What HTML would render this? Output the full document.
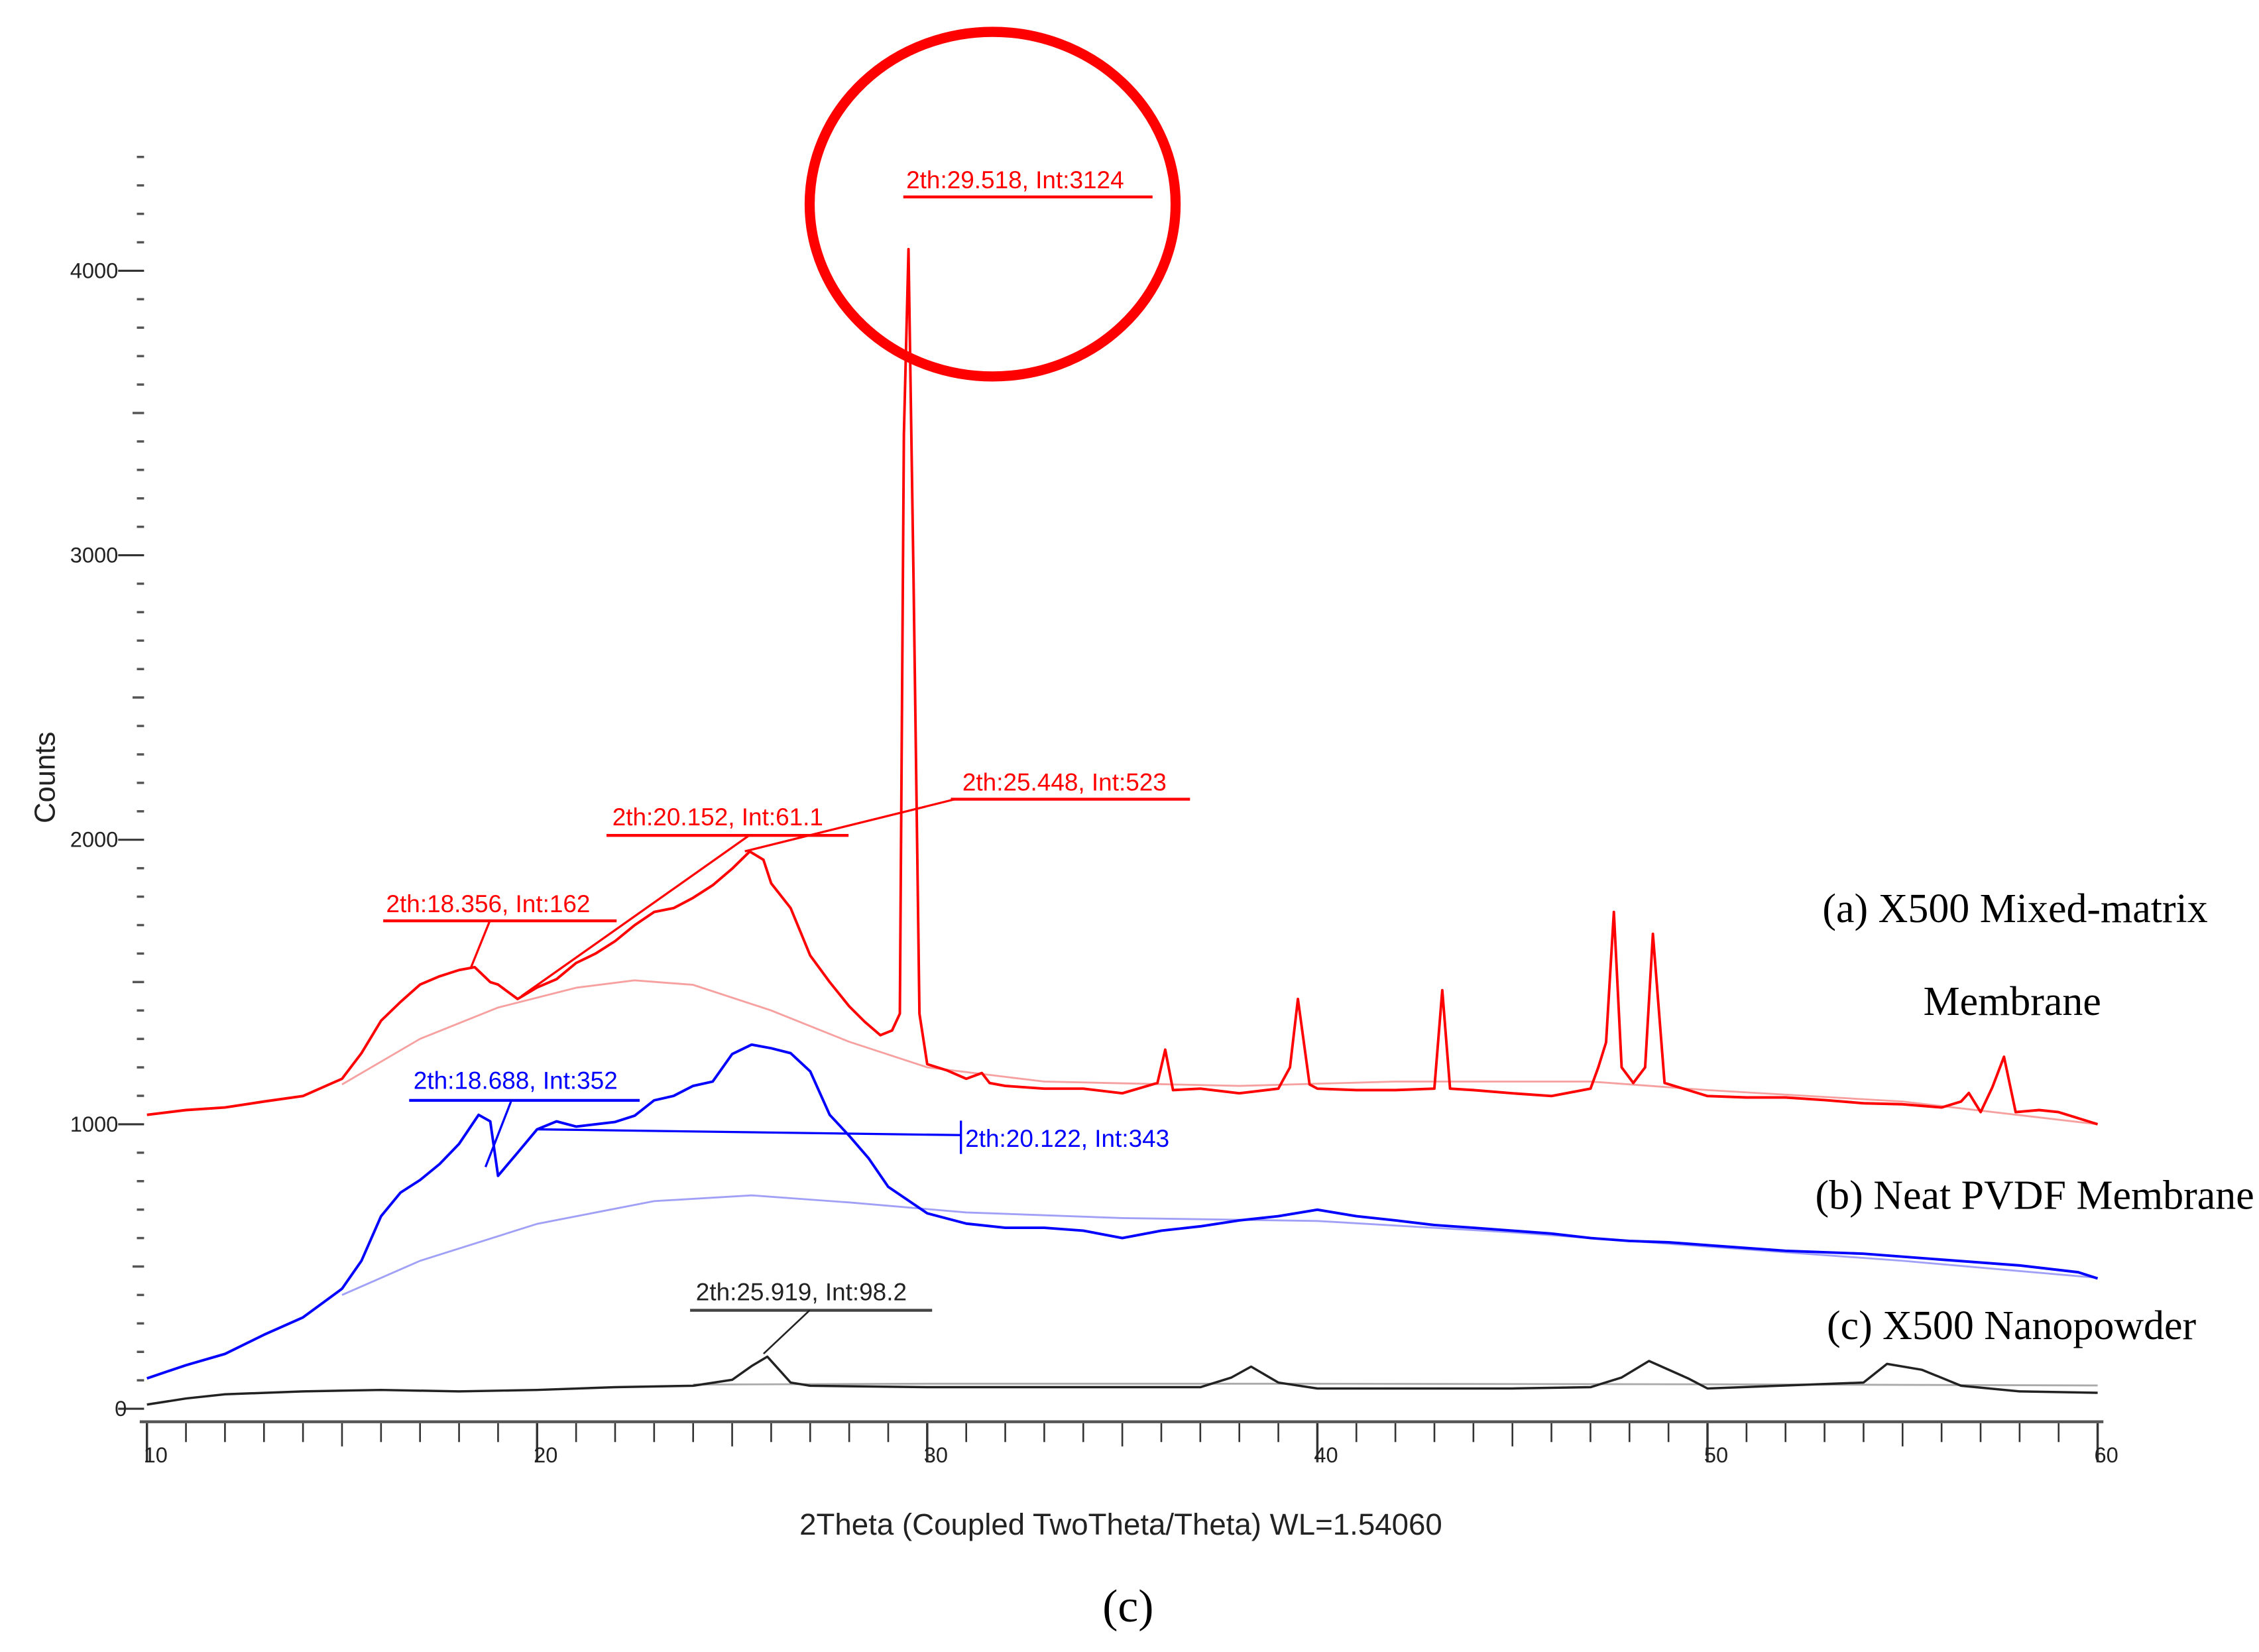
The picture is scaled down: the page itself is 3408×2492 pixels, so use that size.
<!DOCTYPE html>
<html><head><meta charset="utf-8">
<style>
html,body{margin:0;padding:0;background:#fff;}
svg{display:block;}
</style></head>
<body>
<svg id="chart" width="3408" height="2492" viewBox="0 0 1568 1141" preserveAspectRatio="none" xmlns="http://www.w3.org/2000/svg">
<rect x="0" y="0" width="1568" height="1141" fill="#fff"/>
<g id="axes"></g>
<g id="series"></g>
<g id="annot" font-family="'Liberation Sans', sans-serif" font-size="17">
  <ellipse cx="689" cy="141" rx="127" ry="119" fill="none" stroke="#f00" stroke-width="7"/>
  <text x="629" y="130" fill="#f00">2th:29.518, Int:3124</text>
  <line x1="627" y1="136" x2="800" y2="136" stroke="#f00" stroke-width="2"/>
  <text x="668" y="546" fill="#f00">2th:25.448, Int:523</text>
  <line x1="660" y1="552" x2="826" y2="552" stroke="#f00" stroke-width="2"/>
  <line x1="663" y1="552" x2="517" y2="588" stroke="#f00" stroke-width="1.5"/>
  <text x="425" y="570" fill="#f00">2th:20.152, Int:61.1</text>
  <line x1="421" y1="577" x2="589" y2="577" stroke="#f00" stroke-width="2"/>
  <line x1="520" y1="577" x2="362" y2="688" stroke="#f00" stroke-width="1.5"/>
  <text x="268" y="630" fill="#f00">2th:18.356, Int:162</text>
  <line x1="266" y1="636" x2="428" y2="636" stroke="#f00" stroke-width="2"/>
  <line x1="340" y1="636" x2="327" y2="668" stroke="#f00" stroke-width="1.5"/>
  <text x="287" y="752" fill="#00f">2th:18.688, Int:352</text>
  <line x1="284" y1="760" x2="444" y2="760" stroke="#00f" stroke-width="2"/>
  <line x1="355" y1="760" x2="337" y2="806" stroke="#00f" stroke-width="1.5"/>
  <text x="670" y="792" fill="#00f">2th:20.122, Int:343</text>
  <line x1="373" y1="780" x2="667" y2="784" stroke="#00f" stroke-width="1.5"/>
  <line x1="667" y1="774" x2="667" y2="797" stroke="#00f" stroke-width="1.5"/>
  <text x="483" y="898" fill="#222">2th:25.919, Int:98.2</text>
  <line x1="479" y1="905" x2="647" y2="905" stroke="#444" stroke-width="2"/>
  <line x1="562" y1="905" x2="530" y2="935" stroke="#222" stroke-width="1.2"/>
</g>
<g font-family="'Liberation Serif', serif" font-size="28.5" fill="#000">
  <text x="1265" y="637">(a) X500 Mixed-matrix</text>
  <text x="1335" y="701">Membrane</text>
  <text x="1260" y="835">(b) Neat PVDF Membrane</text>
  <text x="1268" y="925">(c) X500 Nanopowder</text>
  <text x="783" y="1120" font-size="32" text-anchor="middle">(c)</text>
</g>
<text x="778" y="1060" font-family="'Liberation Sans', sans-serif" font-size="21" text-anchor="middle" fill="#222">2Theta (Coupled TwoTheta/Theta) WL=1.54060</text>
<text x="38" y="537" font-family="'Liberation Sans', sans-serif" font-size="20" text-anchor="middle" fill="#222" transform="rotate(-90 38 537)">Counts</text>
</svg>
<script>
const redX = [10,11,12,13,14,15,15.5,16,16.5,17,17.5,18,18.4,18.8,19,19.5,20,20.5,21,21.5,22,22.5,23,23.5,24,24.5,25,25.45,25.8,26,26.5,27,27.5,28,28.4,28.8,29.1,29.3,29.4,29.52,29.65,29.8,30,30.5,31,31.4,31.6,32,33,34,35,35.9,36.1,36.3,37,38,39,39.3,39.5,39.8,40,41,42,43,43.2,43.4,44,45,46,47,47.2,47.4,47.6,47.8,48.1,48.4,48.6,48.9,49.5,50,51,52,53,54,55,56,56.5,56.7,57,57.3,57.6,57.9,58.5,59,60];
const redY = [1033,1050,1059,1080,1099,1160,1250,1364,1430,1491,1520,1542,1552,1500,1491,1440,1481,1510,1567,1600,1644,1700,1746,1760,1796,1840,1898,1959,1930,1847,1760,1593,1500,1415,1360,1313,1330,1389,3425,4076,2916,1389,1211,1190,1160,1180,1145,1135,1125,1125,1109,1145,1262,1120,1125,1109,1125,1200,1440,1140,1125,1120,1120,1125,1471,1125,1120,1109,1099,1125,1200,1288,1746,1200,1145,1200,1669,1145,1120,1099,1094,1094,1085,1074,1070,1059,1080,1110,1043,1130,1237,1043,1050,1043,1000];
const redBgX = [15,17,19,21,22.5,24,26,28,30,33,38,42,47,50,55,60];
const redBgY = [1140,1300,1410,1480,1506,1490,1400,1290,1200,1150,1135,1150,1150,1120,1080,1000];
const blueX = [10,11,12,13,14,15,15.5,16,16.5,17,17.5,18,18.5,18.8,19,19.5,20,20.5,21,21.5,22,22.5,23,23.5,24,24.5,25,25.5,26,26.5,27,27.5,28,28.5,29,30,31,32,33,34,35,36,37,38,39,40,41,42,43,44,45,46,47,48,49,50,52,54,56,58,59.5,60];
const blueY = [107,153,193,260,321,422,520,677,760,804,860,931,1033,1010,819,900,982,1010,992,1000,1008,1030,1084,1100,1135,1150,1247,1280,1267,1250,1186,1033,960,880,780,687,651,636,636,626,600,626,641,662,677,700,677,662,646,636,626,616,600,590,585,575,555,545,524,504,480,458];
const blueBgX = [15,17,20,23,25.5,28,31,35,40,45,50,55,60];
const blueBgY = [400,520,650,730,750,725,690,670,660,620,570,520,460];
const blackX = [10,11,12,14,16,18,20,22,24,25,25.5,25.9,26.5,27,30,35,37,37.8,38.3,39,40,45,47,47.8,48.5,49.5,50,54,54.6,55.5,56.5,58,60];
const blackY = [15,36,51,61,66,61,66,76,81,102,150,183,92,81,76,76,76,110,148,92,71,71,76,110,168,107,71,92,158,137,81,61,56];
const blackBgX = [24,30,40,50,60];
const blackBgY = [85,88,88,86,82];
const xTicks = [10,20,30,40,50,60];
const yTicks = [0,1000,2000,3000,4000];

const X0=102, XS=27.08, Y0=973, YS=0.1965;
function sx(t){return X0+(t-10)*XS;}
function sy(v){return Y0-v*YS;}
const NS='http://www.w3.org/2000/svg';
const axes=document.getElementById('axes');
const ser=document.getElementById('series');
function mk(tag,attrs,parent){const e=document.createElementNS(NS,tag);for(const k in attrs)e.setAttribute(k,attrs[k]);parent.appendChild(e);return e;}

let xl=mk('line',{x1:97,y1:982,x2:1460,y2:982,stroke:'#555','stroke-width':2},axes);


for(let t=10;t<=60;t++){
  const major=(t%10===0), mid=(t%5===0);
  const tk=mk('line',{x1:sx(t),y1:983,x2:sx(t),y2:major?1010:(mid?999:996),stroke:'#333','stroke-width':major?1.6:1.2},axes);
  
  
}
xTicks.forEach(t=>{
  const tx=mk('text',{x:sx(t)+6,y:1010,'font-family':"'Liberation Sans', sans-serif",'font-size':15,'text-anchor':'middle',fill:'#222'},axes);
  tx.textContent=t;
  
  
});
for(let v=0;v<=4400;v+=100){
  const major=(v%1000===0), mid=(v%500===0);
  const tk=mk('line',{x1:major?82:(mid?92:95),y1:sy(v),x2:100,y2:sy(v),stroke:major?'#333':'#555','stroke-width':major?1.4:1.6},axes);
  
  
}
yTicks.forEach(v=>{
  const tx=mk('text',{x:v===0?88:82,y:sy(v)+5,'font-family':"'Liberation Sans', sans-serif",'font-size':15,'text-anchor':'end',fill:'#222'},axes);
  tx.textContent=v;
  
  
});
function path(xs,ys,color,w,name){
  let d='';
  for(let i=0;i<xs.length;i++)d+=(i?'L':'M')+sx(xs[i]).toFixed(1)+','+sy(ys[i]).toFixed(1);
  const p=mk('path',{d:d,fill:'none',stroke:color,'stroke-width':w,'stroke-linejoin':'round'},ser);
  
  
}
path(redBgX,redBgY,'#f7a0a0',1.3,'background-a');
path(blueBgX,blueBgY,'#a0a0f7',1.3,'background-b');
path(blackBgX,blackBgY,'#aaa',1.3,'background-c');
path(redX,redY,'#f00',1.8,'series-a-mixed-matrix');
path(blueX,blueY,'#00f',1.8,'series-b-neat-pvdf');
path(blackX,blackY,'#222',1.6,'series-c-nanopowder');
</script>
</body></html>
